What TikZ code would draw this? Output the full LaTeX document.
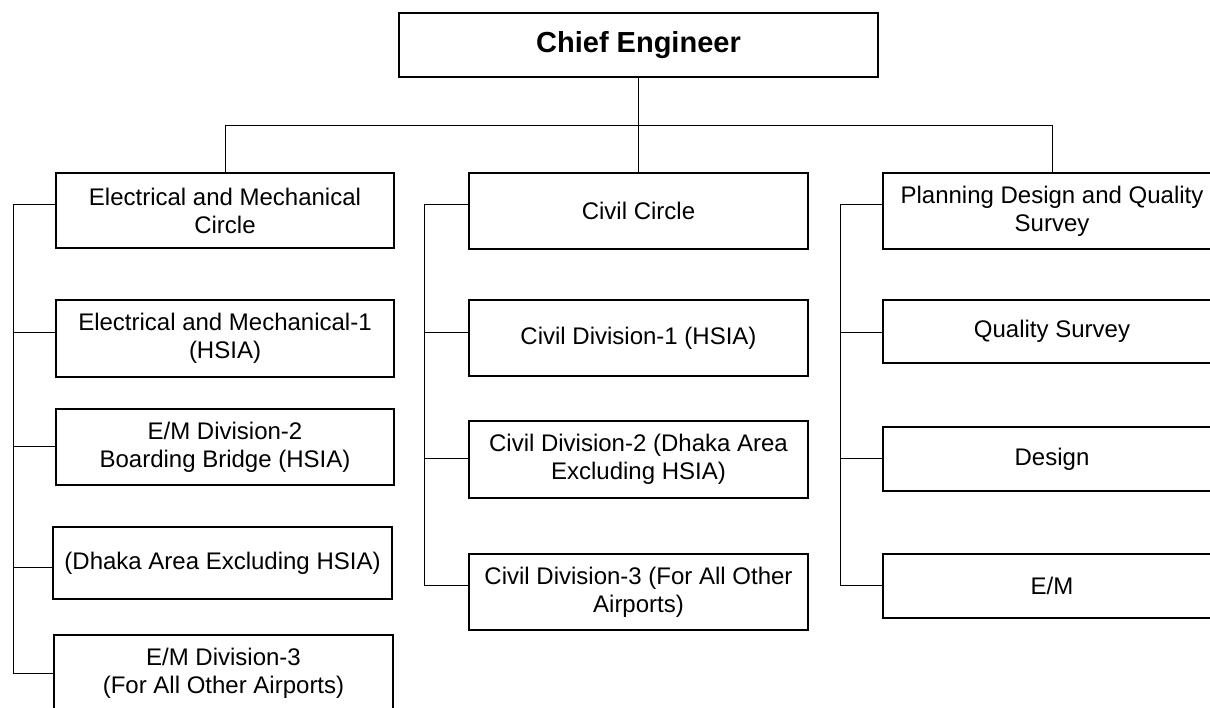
\documentclass[tikz,border=0pt]{standalone}
\usepackage{fontspec}
\setmainfont{Liberation Sans}
\begin{document}
\begin{tikzpicture}[x=1pt,y=-1pt,
  box/.style={draw=black, line width=1.6pt, inner sep=0pt, align=center,
    font=\fontsize{24}{28}\selectfont},
  link/.style={draw=black, line width=1pt}]
\useasboundingbox (0,0) rectangle (1210,707);

% head of the organisation
\node[box, minimum width=479pt, minimum height=64pt,
  font=\fontsize{29}{34}\selectfont\bfseries] (chief) at (638.5,45) {Chief Engineer};

% three circles
\node[box, minimum width=338pt, minimum height=75pt] (em0) at (225,210.5)
  {Electrical and Mechanical\\Circle};
\node[box, minimum width=339pt, minimum height=76pt] (cv0) at (638.5,211) {Civil Circle};
\node[box, minimum width=338pt, minimum height=76pt] (pd0) at (1052,211)
  {Planning Design and Quality\\Survey};

% electrical and mechanical divisions
\node[box, minimum width=338pt, minimum height=77pt] (em1) at (225,338.5)
  {Electrical and Mechanical-1\\(HSIA)};
\node[box, minimum width=338pt, minimum height=76pt] (em2) at (225,447)
  {E/M Division-2\\Boarding Bridge (HSIA)};
\node[box, minimum width=339pt, minimum height=72pt] (em3) at (222.5,563)
  {(Dhaka Area Excluding HSIA)};
\node[box, minimum width=339pt, minimum height=76pt] (em4) at (223.5,673)
  {E/M Division-3\\(For All Other Airports)};

% civil divisions
\node[box, minimum width=339pt, minimum height=76pt] (cv1) at (638.5,338)
  {Civil Division-1 (HSIA)};
\node[box, minimum width=339pt, minimum height=77pt] (cv2) at (638.5,459.5)
  {Civil Division-2 (Dhaka Area\\Excluding HSIA)};
\node[box, minimum width=339pt, minimum height=76pt] (cv3) at (638.5,592)
  {Civil Division-3 (For All Other\\Airports)};

% planning, design and quality sections
\node[box, minimum width=338pt, minimum height=63pt] (pd1) at (1052,331.5) {Quality Survey};
\node[box, minimum width=338pt, minimum height=64pt] (pd2) at (1052,459) {Design};
\node[box, minimum width=338pt, minimum height=64pt] (pd3) at (1052,586) {E/M};

% top level distribution bar
\coordinate (bar) at (638.5,125);
\draw[link] (chief.south) -- (cv0.north);
\draw[link] (em0.north) -- (em0.north |- bar) -- (pd0.north |- bar) -- (pd0.north);

% left spine
\coordinate (a0) at (13,204);
\coordinate (a1) at (13,332);
\coordinate (a2) at (13,446);
\coordinate (a3) at (13,567);
\coordinate (a4) at (13,673);
\draw[link] (a0 -| em0.west) -- (a0) -- (a4) -- (a4 -| em4.west);
\draw[link] (a1) -- (a1 -| em1.west);
\draw[link] (a2) -- (a2 -| em2.west);
\draw[link] (a3) -- (a3 -| em3.west);

% middle spine
\coordinate (b0) at (424,204);
\coordinate (b1) at (424,332);
\coordinate (b2) at (424,458);
\coordinate (b3) at (424,585);
\draw[link] (b0 -| cv0.west) -- (b0) -- (b3) -- (b3 -| cv3.west);
\draw[link] (b1) -- (b1 -| cv1.west);
\draw[link] (b2) -- (b2 -| cv2.west);

% right spine
\coordinate (c0) at (840,204);
\coordinate (c1) at (840,332);
\coordinate (c2) at (840,458);
\coordinate (c3) at (840,585);
\draw[link] (c0 -| pd0.west) -- (c0) -- (c3) -- (c3 -| pd3.west);
\draw[link] (c1) -- (c1 -| pd1.west);
\draw[link] (c2) -- (c2 -| pd2.west);
\end{tikzpicture}
\end{document}
